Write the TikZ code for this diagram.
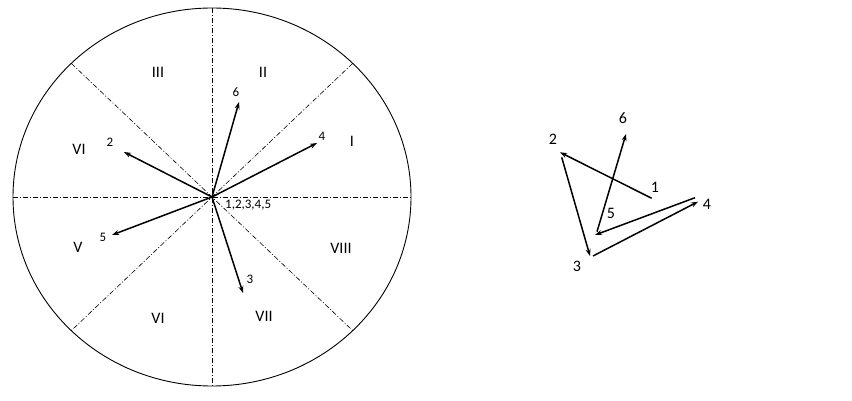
\documentclass[tikz,border=0pt]{standalone}
\usepackage{fontspec}
\setmainfont{Carlito}
\usetikzlibrary{arrows.meta}
\begin{document}
\begin{tikzpicture}[x=1pt,y=-1pt,
  axisline/.style={line width=0.6pt, dash pattern=on 5pt off 2pt on 1pt off 2pt},
  vec/.style={line width=1.5pt, -{Stealth[length=7pt,width=5pt]}},
  sector/.style={font=\fontsize{16}{18}\selectfont, inner sep=0pt},
  tag/.style={font=\fontsize{13}{15}\selectfont, inner sep=0pt},
  bigtag/.style={font=\fontsize{16}{18}\selectfont, inner sep=0pt}]
\useasboundingbox (0,0) rectangle (852,401);
% circle and axes
\coordinate (O) at (212,197);
\draw[line width=0.9pt] (O) ellipse [x radius=199pt, y radius=189pt];
\coordinate (L) at (13,197); \coordinate (R) at (411,197);
\coordinate (T) at (212,8); \coordinate (B) at (212,386);
\coordinate (UL) at (71.3,63.4); \coordinate (LR) at (352.7,330.6);
\coordinate (UR) at (352.7,63.4); \coordinate (LL) at (71.3,330.6);
\draw[axisline] (L) -- (R);
\draw[axisline] (T) -- (B);
\draw[axisline] (UL) -- (LR);
\draw[axisline] (UR) -- (LL);
% sector labels
\node[sector] (s3) at (158,72) {III};
\node[sector] (s2) at (263,72) {II};
\node[sector] (s1) at (352,141) {I};
\node[sector] (s6a) at (79,149) {VI};
\node[sector] (s5) at (78,247) {V};
\node[sector] (s6b) at (158,318) {VI};
\node[sector] (s7) at (264,316) {VII};
\node[sector] (s8) at (341,248) {VIII};
% vectors
\coordinate (t6) at (239,102);
\coordinate (t4) at (317,143);
\coordinate (t2) at (124,152);
\coordinate (t5) at (112,235);
\coordinate (t3) at (243,293);
\draw[vec] (O) -- (t6);
\draw[vec] (O) -- (t4);
\draw[vec] (O) -- (t2);
\draw[vec] (O) -- (t5);
\draw[vec] (O) -- (t3);
\node[tag] (l6) at (236,92) {6};
\node[tag] (l4) at (322,136) {4};
\node[tag] (l2) at (110,142) {2};
\node[tag] (l5) at (103,237) {5};
\node[tag] (l3) at (250,279) {3};
\node[tag, anchor=west] (lc) at (225,205) {1,2,3,4,5};
% right polygon
\coordinate (p1) at (651.7,198.3);
\coordinate (p2) at (560,152.3);
\coordinate (p2b) at (561.7,157.3);
\coordinate (p3) at (590,256);
\coordinate (p3b) at (593,256);
\coordinate (p4) at (698,201.7);
\coordinate (p4b) at (695,197.7);
\coordinate (p5) at (595,235);
\coordinate (p5b) at (597,231.7);
\coordinate (p6) at (626,134);
\draw[vec] (p1) -- (p2);
\draw[vec] (p2b) -- (p3);
\draw[vec] (p3b) -- (p4);
\draw[vec] (p4b) -- (p5);
\draw[vec] (p5b) -- (p6);
\node[bigtag] (q1) at (655,187) {1};
\node[bigtag] (q2) at (553,139) {2};
\node[bigtag] (q3) at (577,266) {3};
\node[bigtag] (q4) at (707,204) {4};
\node[bigtag] (q5) at (611,213) {5};
\node[bigtag] (q6) at (623,118) {6};
\end{tikzpicture}
\end{document}
